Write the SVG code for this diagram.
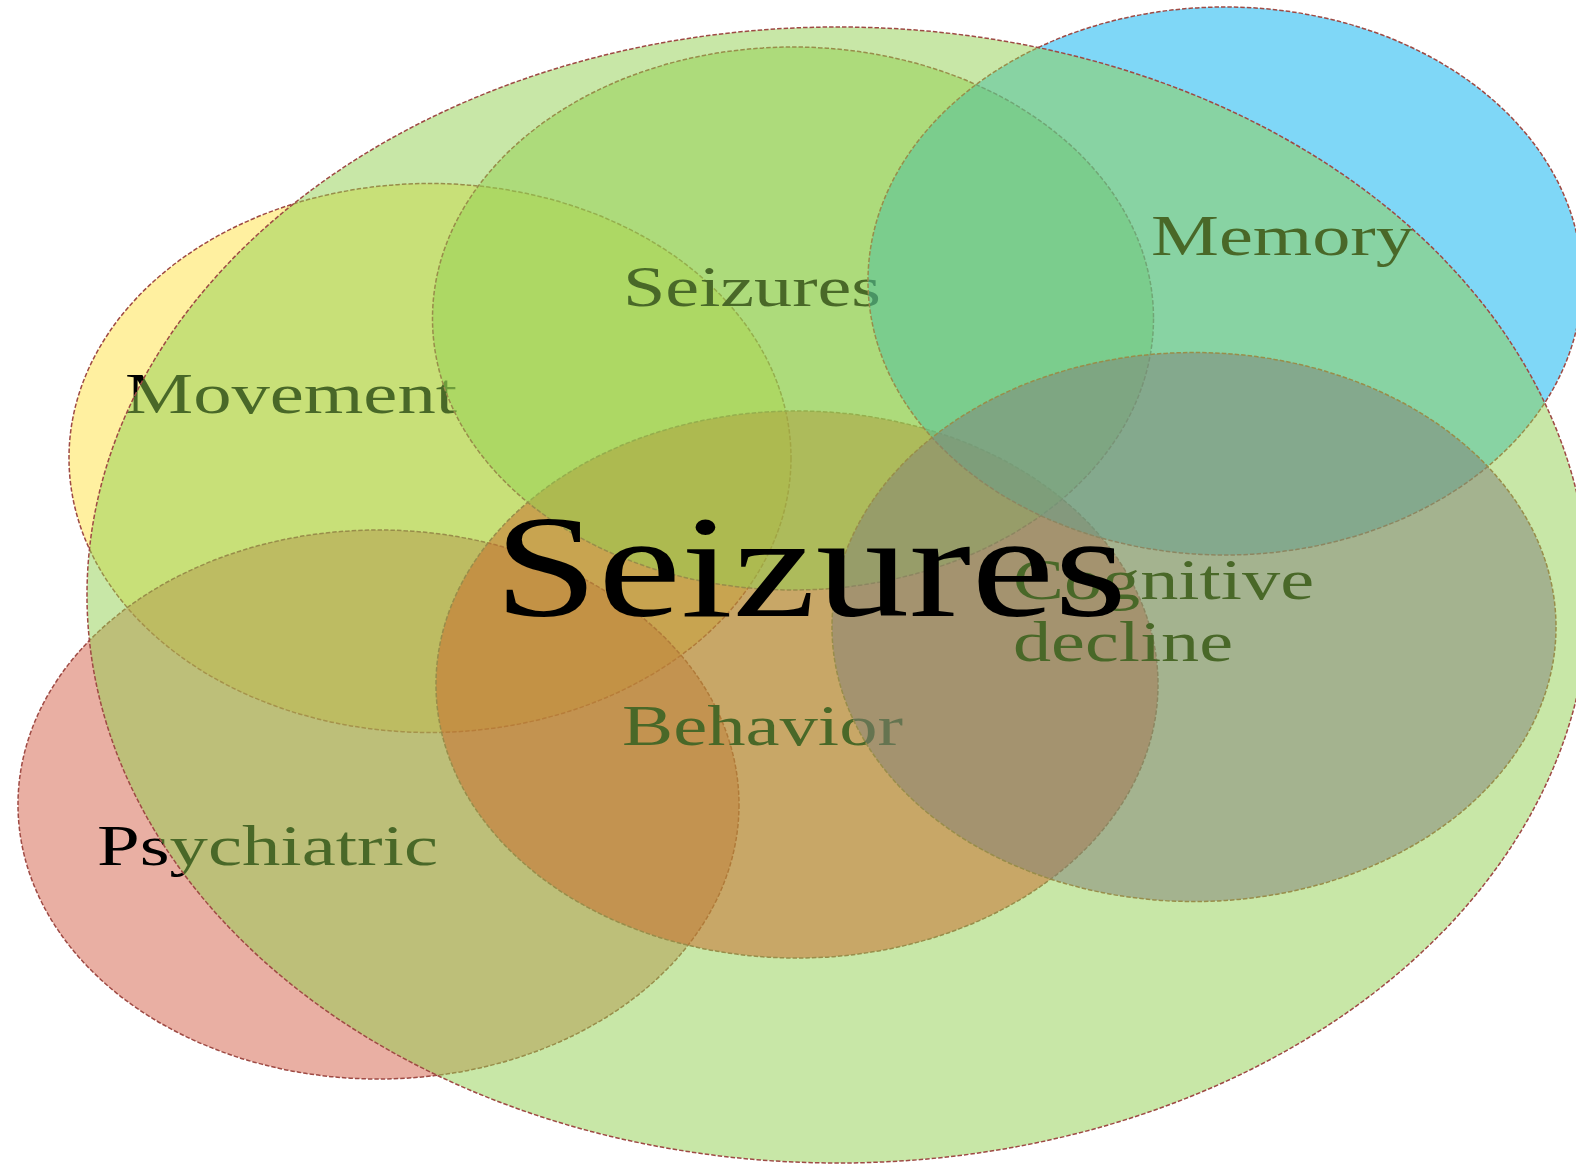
<svg xmlns="http://www.w3.org/2000/svg" width="1576" height="1168" viewBox="0 0 1576 1168">
<style>
.el{fill-opacity:0.5;stroke:#9E4A44;stroke-width:1.5;stroke-dasharray:4.5 2;}
.lbl{font-family:"Liberation Serif","Times New Roman",serif;font-size:57px;fill:#000;}
.big{font-family:"Liberation Serif","Times New Roman",serif;font-size:147px;fill:#000;}
</style>
<rect width="1576" height="1168" fill="#fff"/>
<g id="movement">
<ellipse class="el" cx="430" cy="458" rx="361" ry="274.5" fill="#FFE141"/>
<text class="lbl" x="125" y="413" textLength="332" lengthAdjust="spacingAndGlyphs">Movement</text>
</g>
<g id="psychiatric">
<ellipse class="el" cx="378.5" cy="804.5" rx="360.5" ry="274.5" fill="#D45F47"/>
<text class="lbl" x="97" y="865" textLength="341" lengthAdjust="spacingAndGlyphs">Psychiatric</text>
</g>
<g id="behavior">
<ellipse class="el" cx="797" cy="684.5" rx="361" ry="273.5" fill="#FF0000"/>
<text class="lbl" x="622" y="745" textLength="281" lengthAdjust="spacingAndGlyphs">Behavior</text>
</g>
<g id="seizures-small">
<ellipse class="el" cx="793" cy="318.5" rx="360.5" ry="271.5" fill="#92D050"/>
<text class="lbl" x="623" y="306" textLength="258" lengthAdjust="spacingAndGlyphs">Seizures</text>
</g>
<g id="memory">
<ellipse class="el" cx="1225" cy="281" rx="357" ry="274" fill="#00B0F0"/>
<text class="lbl" x="1151" y="254.5" textLength="263" lengthAdjust="spacingAndGlyphs">Memory</text>
</g>
<g id="cognitive-decline">
<ellipse class="el" cx="1194" cy="627" rx="362" ry="274.5" fill="#7030A0"/>
<text class="lbl" x="1013" y="599" textLength="301" lengthAdjust="spacingAndGlyphs">Cognitive</text>
<text class="lbl" x="1013" y="661" textLength="220" lengthAdjust="spacingAndGlyphs">decline</text>
</g>
<g id="seizures-main">
<ellipse class="el" cx="838" cy="595" rx="751" ry="568" fill="#92D050"/>
<text class="big" x="494" y="616" textLength="633" lengthAdjust="spacingAndGlyphs">Seizures</text>
</g>
<g id="connectors"></g>
</svg>
